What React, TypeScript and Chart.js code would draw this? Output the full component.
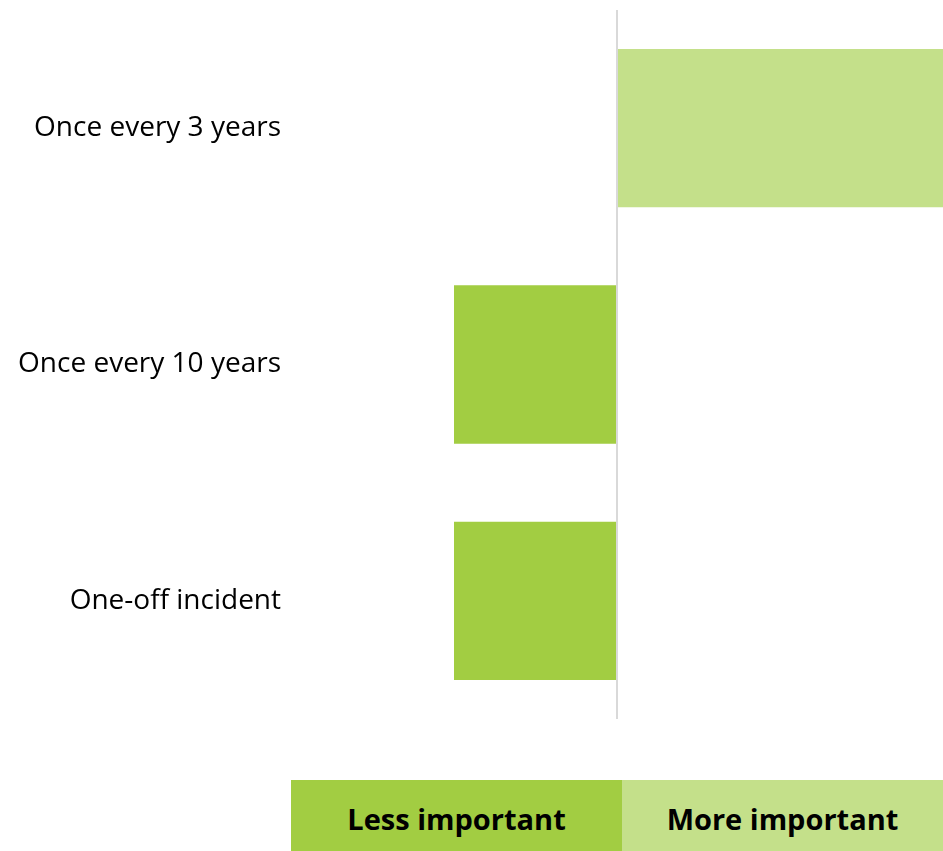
import React, { useEffect, useRef } from "react";
import { Chart, registerables } from "chart.js";

Chart.register(...registerables);

const categories = ["Once every 3 years", "Once every 10 years", "One-off incident"];
const values = [1, -0.5, -0.5];
const legendLabels = ["Less important", "More important"];
const darkGreen = "#A2CD42";
const lightGreen = "#C4E08A";

export default function App() {
  const ref = useRef<HTMLCanvasElement | null>(null);

  useEffect(() => {
    document.body.style.margin = "0";
    const chart = new Chart(ref.current!, {
      type: "bar",
      data: {
        labels: categories,
        datasets: [
          {
            data: values,
            backgroundColor: values.map((v) => (v >= 0 ? lightGreen : darkGreen)),
            borderWidth: 0,
            categoryPercentage: 1,
            barPercentage: 0.67,
          },
        ],
      },
      options: {
        indexAxis: "y",
        animation: false,
        responsive: false,
        maintainAspectRatio: false,
        layout: { padding: { top: 10, bottom: 0, left: 0, right: 0 } },
        plugins: { legend: { display: false }, tooltip: { enabled: false } },
        scales: {
          x: {
            min: -1,
            max: 1,
            ticks: { display: false },
            border: { display: false },
            grid: {
              drawTicks: false,
              lineWidth: 2,
              color: (ctx: any) => (ctx.tick && ctx.tick.value === 0 ? "#D9D9D9" : "rgba(0,0,0,0)"),
            },
            afterFit: (scale: any) => {
              scale.height = 0;
              scale.paddingLeft = 0;
              scale.paddingRight = 0;
              scale.paddingTop = 0;
              scale.paddingBottom = 0;
            },
          },
          y: {
            border: { display: false },
            grid: { display: false, drawTicks: false },
            ticks: {
              color: "#000",
              padding: 10,
              font: { family: "'Open Sans', sans-serif", size: 28 },
            },
            afterFit: (scale: any) => {
              scale.width = 291;
              scale.paddingTop = 0;
              scale.paddingBottom = 0;
              scale.paddingLeft = 0;
              scale.paddingRight = 0;
            },
          },
        },
      },
    });
    return () => chart.destroy();
  }, []);

  return (
    <div style={{ position: "relative", width: 943, height: 851, overflow: "hidden", background: "#fff" }}>
      <canvas ref={ref} width={943} height={719} style={{ display: "block" }} />
      <div
        style={{
          position: "absolute",
          left: 291,
          top: 780,
          width: 652,
          height: 71,
          display: "flex",
          fontFamily: "'Open Sans', sans-serif",
          fontWeight: 700,
          fontSize: 29,
          color: "#000",
        }}
      >
        <div style={{ flex: "0 0 331px", background: darkGreen, display: "flex", alignItems: "center", justifyContent: "center", paddingTop: 6, boxSizing: "border-box" }}>
          {legendLabels[0]}
        </div>
        <div style={{ flex: "1 1 auto", background: lightGreen, display: "flex", alignItems: "center", justifyContent: "center", paddingTop: 6, boxSizing: "border-box" }}>
          {legendLabels[1]}
        </div>
      </div>
    </div>
  );
}
